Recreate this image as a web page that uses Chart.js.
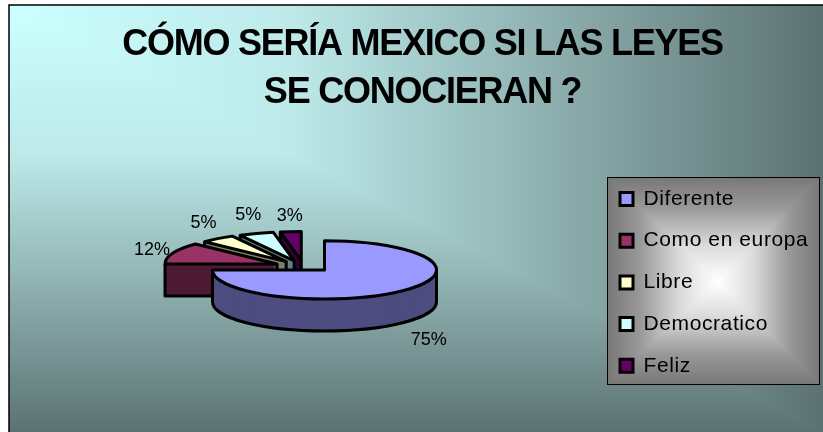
<!DOCTYPE html>
<html lang="es">
<head>
<meta charset="utf-8">
<title>Leyes</title>
<script src="https://cdn.jsdelivr.net/npm/chart.js@4"></script>
<style>
  html, body { margin: 0; padding: 0; background: #fff; }
  #wrap { position: absolute; left: 0; top: 0; width: 823px; height: 432px; }
</style>
</head>
<body>
<div id="wrap"><canvas id="pie" width="823" height="432"></canvas></div>
<script>
const titleLines = ['CÓMO SERÍA MEXICO SI LAS LEYES', 'SE CONOCIERAN ?'];
const categories = ['Diferente', 'Como en europa', 'Libre', 'Democratico', 'Feliz'];
const percentages = [75, 12, 5, 5, 3];
const faceColors = ['#9999FF', '#993366', '#FFFFCC', '#CCFFFF', '#660066'];
const sideColors = ['#4D4D80', '#4D1A33', '#808066', '#668080', '#330033'];
// Each percentage label sits this far from the rim of its slice.
const labelNudges = [[25, 50], [-21, -3], [-14, -16], [-8, -18], [-1, -15]];

const frame = { left: 9, top: 5, right: 823, bottom: 432 };
const legendBox = { left: 607, top: 177, right: 820, bottom: 385 };
const pieCenter = { x: 304, y: 266 };
const pieRadius = 112;
const tilt = 0.26;
const depth = 32;
const explode = 29;
const explodeTilt = 0.19;
const outline = 3;

// Fill a rectangle with a gradient that spreads from one point towards the
// edges along both axes, leaving the diagonal creases of a path gradient.
function pathGradient(ctx, box, ox, oy, stops) {
  const corners = [[box.left, box.top], [box.right, box.top], [box.right, box.bottom], [box.left, box.bottom]];
  const targets = [[ox, box.top], [box.right, oy], [ox, box.bottom], [box.left, oy]];
  ctx.save();
  ctx.beginPath();
  ctx.rect(box.left, box.top, box.right - box.left, box.bottom - box.top);
  ctx.clip();
  ctx.lineWidth = 1;
  corners.forEach((corner, i) => {
    const next = corners[(i + 1) % 4];
    const target = targets[i];
    if (target[0] === ox && target[1] === oy) return;
    const g = ctx.createLinearGradient(ox, oy, target[0], target[1]);
    stops.forEach(([at, color]) => g.addColorStop(at, color));
    ctx.beginPath();
    ctx.moveTo(ox, oy);
    ctx.lineTo(corner[0], corner[1]);
    ctx.lineTo(next[0], next[1]);
    ctx.closePath();
    ctx.fillStyle = g;
    ctx.strokeStyle = g;
    ctx.fill();
    ctx.stroke();
  });
  ctx.restore();
}

// Draw a layout box with its text tracked tighter or wider.
function trackText(box, ctx, spacing) {
  const draw = box.draw.bind(box);
  box.draw = (...rest) => {
    const previous = ctx.letterSpacing;
    ctx.letterSpacing = spacing;
    draw(...rest);
    ctx.letterSpacing = previous;
  };
}

const backdrop = {
  id: 'backdrop',
  afterInit(chart) {
    trackText(chart.titleBlock, chart.ctx, '-1.25px');
    trackText(chart.legend, chart.ctx, '0.6px');
  },
  afterLayout(chart) {
    // Title and legend are placed by hand around the pie.
    const t = chart.titleBlock;
    t.left = 0; t.right = 845; t.top = 11.5; t.width = 845;
    const l = chart.legend;
    l.left = 599.3; l.right = 820; l.top = 167.8; l.bottom = 432;
    l.width = l.right - l.left;
    l.height = l.bottom - l.top;
    chart.chartArea = {
      left: pieCenter.x - pieRadius, right: pieCenter.x + pieRadius,
      top: pieCenter.y - pieRadius, bottom: pieCenter.y + pieRadius,
      width: pieRadius * 2, height: pieRadius * 2
    };
  },
  beforeDraw(chart) {
    const ctx = chart.ctx;
    ctx.save();
    pathGradient(ctx, frame, frame.left, frame.top, [[0, '#CCFFFF'], [0.35, '#BDE9E9'], [1, '#5C7272']]);
    ctx.strokeStyle = '#000';
    ctx.lineWidth = 1.5;
    ctx.beginPath();
    ctx.moveTo(frame.right, frame.top);
    ctx.lineTo(frame.left, frame.top);
    ctx.lineTo(frame.left, frame.bottom);
    ctx.stroke();
    pathGradient(ctx, legendBox, 718, 281, [[0, '#FFFFFF'], [0.35, '#DADADA'], [0.7, '#999999'], [1, '#777777']]);
    ctx.lineWidth = 1;
    ctx.strokeRect(legendBox.left + 0.5, legendBox.top + 0.5,
      legendBox.right - legendBox.left - 1, legendBox.bottom - legendBox.top - 1);
    ctx.restore();
  }
};

// Wedge of one exploded slice, tilted into an ellipse.
function wedgePath(ctx, arc, ox, oy) {
  ctx.beginPath();
  ctx.moveTo(ox, oy);
  ctx.ellipse(ox, oy, arc.outerRadius, arc.outerRadius * tilt, 0, arc.startAngle, arc.endAngle);
  ctx.closePath();
}

function sliceOrigin(arc) {
  const mid = (arc.startAngle + arc.endAngle) / 2;
  return { x: arc.x + Math.cos(mid) * explode, y: arc.y + Math.sin(mid) * explode * explodeTilt };
}

function rimPoint(arc, origin, angle) {
  return {
    x: origin.x + Math.cos(angle) * arc.outerRadius,
    y: origin.y + Math.sin(angle) * arc.outerRadius * tilt
  };
}

// Visible wall of a slice: the curved front for the big slice, the cut face
// for the wedges that point away from the viewer.
function strokeWall(ctx, arc, o) {
  if (arc.endAngle - arc.startAngle > Math.PI) {
    const right = rimPoint(arc, o, 0);
    const left = rimPoint(arc, o, Math.PI);
    ctx.beginPath();
    ctx.moveTo(right.x, right.y);
    ctx.lineTo(right.x, right.y + depth);
    ctx.ellipse(o.x, o.y + depth, arc.outerRadius, arc.outerRadius * tilt, 0, 0, Math.PI);
    ctx.lineTo(left.x, left.y);
  } else {
    const rim = rimPoint(arc, o, arc.startAngle);
    ctx.beginPath();
    ctx.moveTo(rim.x, rim.y);
    ctx.lineTo(rim.x, rim.y + depth);
    ctx.lineTo(o.x, o.y + depth);
    ctx.lineTo(o.x, o.y);
  }
  ctx.stroke();
}

const tiltedPie = {
  id: 'tiltedPie',
  beforeDatasetDraw(chart, args) {
    const ctx = chart.ctx;
    const arcs = args.meta.data;
    // Painted from back to front, so the nearest slice ends up on top.
    for (let i = arcs.length - 1; i >= 0; i--) {
      const arc = arcs[i];
      const o = sliceOrigin(arc);
      ctx.save();
      ctx.lineJoin = 'round';
      ctx.strokeStyle = '#000';
      ctx.lineWidth = outline;
      ctx.fillStyle = sideColors[i];
      for (let d = depth; d > 0; d--) {
        wedgePath(ctx, arc, o.x, o.y + d);
        ctx.fill();
      }
      strokeWall(ctx, arc, o);
      // Top face, painted by the library's arc element under the tilt.
      ctx.save();
      ctx.translate(o.x, o.y);
      ctx.scale(1, tilt);
      ctx.translate(-arc.x, -arc.y);
      arc.draw(ctx);
      ctx.restore();
      wedgePath(ctx, arc, o.x, o.y);
      ctx.stroke();
      ctx.restore();
    }
    ctx.save();
    ctx.fillStyle = '#000';
    ctx.font = '18px "Liberation Sans"';
    ctx.textAlign = 'center';
    ctx.textBaseline = 'middle';
    percentages.forEach((v, i) => {
      const arc = arcs[i];
      const rim = rimPoint(arc, sliceOrigin(arc), (arc.startAngle + arc.endAngle) / 2);
      ctx.fillText(v + '%', rim.x + labelNudges[i][0], rim.y + labelNudges[i][1]);
    });
    ctx.restore();
    return false;
  }
};

new Chart(document.getElementById('pie'), {
  type: 'pie',
  data: {
    labels: categories,
    datasets: [{
      data: percentages,
      backgroundColor: faceColors,
      borderWidth: 0
    }]
  },
  plugins: [backdrop, tiltedPie],
  options: {
    responsive: false,
    animation: false,
    rotation: 0,
    plugins: {
      tooltip: { enabled: false },
      title: {
        display: true,
        text: titleLines,
        color: '#000',
        font: { family: '"Liberation Sans"', size: 36, weight: 'bold', lineHeight: 1.333 }
      },
      legend: {
        display: true,
        position: 'right',
        align: 'start',
        labels: {
          color: '#000',
          font: { family: '"Liberation Sans"', size: 21 },
          boxWidth: 13,
          boxHeight: 13,
          padding: 20.7,
          generateLabels() {
            return categories.map((name, i) => ({
              text: name, fillStyle: faceColors[i], strokeStyle: '#000',
              lineWidth: 3, index: i, hidden: false
            }));
          }
        }
      }
    }
  }
});
</script>
</body>
</html>
